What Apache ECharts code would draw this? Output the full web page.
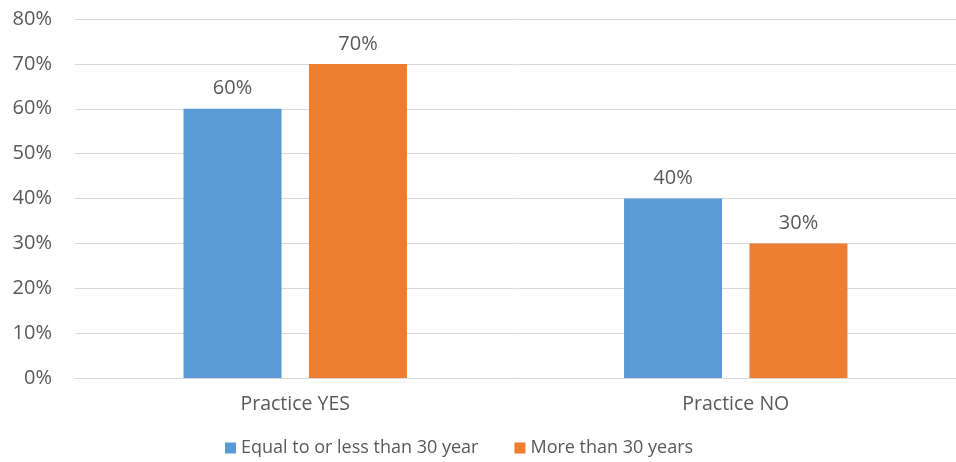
<!DOCTYPE html>
<html>
<head>
<meta charset="utf-8">
<script src="https://cdn.jsdelivr.net/npm/echarts@6/dist/echarts.min.js"></script>
<style>
  html, body { margin: 0; padding: 0; background: #fff; }
  #chart { width: 956px; height: 462px; }
</style>
</head>
<body>
<div id="chart"></div>
<script>
const categories = ['Practice YES', 'Practice NO'];
const seriesNames = ['Equal to or less than 30 year', 'More than 30 years'];
const youngValues = [60, 40];
const olderValues = [70, 30];

const textColor = '#595959';
const font = '"Open Sans", sans-serif';

const chart = echarts.init(document.getElementById('chart'));

function barSeries(name, data, color) {
  return {
    name: name,
    type: 'bar',
    data: data,
    barWidth: 98,
    barGap: '28%',
    itemStyle: { color: color },
    label: {
      show: true,
      position: 'top',
      distance: 10,
      formatter: '{c}%',
      color: textColor,
      fontFamily: font,
      fontSize: 20
    }
  };
}

chart.setOption({
  animation: false,
  textStyle: { fontFamily: font },
  grid: {
    left: 75,
    top: 19,
    width: 883,
    height: 359
  },
  legend: {
    data: seriesNames,
    bottom: 0,
    left: 220,
    itemWidth: 11,
    itemHeight: 11,
    itemGap: 36,
    icon: 'rect',
    textStyle: { color: textColor, fontFamily: font, fontSize: 18 }
  },
  xAxis: {
    type: 'category',
    data: categories,
    axisTick: { show: false },
    axisLine: { lineStyle: { color: '#d9d9d9', width: 1 } },
    axisLabel: { color: textColor, fontFamily: font, fontSize: 19.5, margin: 16 }
  },
  yAxis: {
    type: 'value',
    min: 0,
    max: 80,
    interval: 10,
    axisLine: { show: false },
    axisTick: { show: false },
    splitLine: { lineStyle: { color: '#d9d9d9', width: 1 } },
    axisLabel: {
      formatter: '{value}%',
      color: textColor,
      fontFamily: font,
      fontSize: 20,
      margin: 23
    }
  },
  series: [
    barSeries(seriesNames[0], youngValues, '#5b9bd5'),
    barSeries(seriesNames[1], olderValues, '#ed7d31')
  ]
});
</script>
</body>
</html>
